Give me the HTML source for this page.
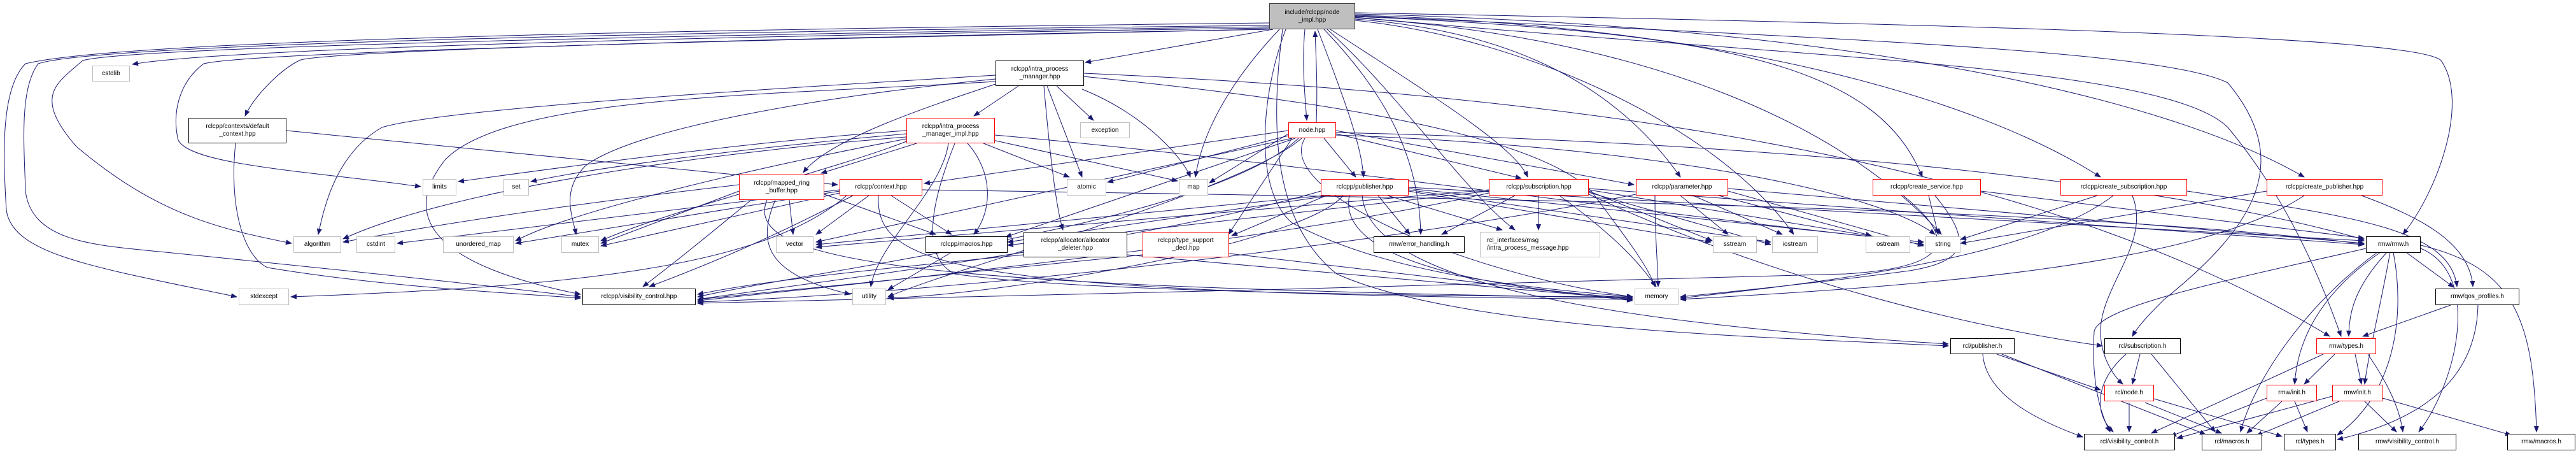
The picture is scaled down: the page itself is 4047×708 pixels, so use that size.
<!DOCTYPE html>
<html><head><meta charset="utf-8"><style>
html,body{margin:0;padding:0;background:#fff;}
#c{position:relative;width:4047px;height:708px;overflow:hidden;background:#fff;}
svg{position:absolute;left:0;top:0;}
.n{position:absolute;box-sizing:border-box;background:#fff;border:1px solid #000;font-family:"Liberation Sans",sans-serif;font-size:10px;line-height:12px;color:#000;display:flex;align-items:center;justify-content:center;text-align:center;white-space:nowrap;}
.g{border-color:#bfbfbf;}
.r{border-color:#ff0000;}
.k{border-color:#000;}
.root{background:#bfbfbf;border-color:#404040;}
</style></head><body><div id="c">
<svg width="4047" height="708" viewBox="0 0 4047 708">
<defs><marker id="a" markerWidth="10" markerHeight="8" refX="9" refY="4" orient="auto" markerUnits="userSpaceOnUse"><path d="M0,0 L10,4 L0,8z" fill="#191970"/></marker></defs>
<g fill="none" stroke="#191970" stroke-width="1" marker-end="url(#a)">
<path d="M1994 36 C1200 45 200 60 40 100 C0 140 5 250 10 330 C20 400 150 420 372 466"/>
<path d="M1994 40 C1000 50 150 70 60 100 C30 140 38 230 40 300 C50 380 150 385 250 395 C400 410 700 440 912 466"/>
<path d="M1994 42 C1000 55 200 75 130 95 C90 130 50 150 120 230 C250 340 350 360 458 382"/>
<path d="M1994 44 C1200 55 350 75 208 101"/>
<path d="M1994 46 C1200 60 500 80 470 95 C440 110 400 150 385 182"/>
<path d="M1994 46 C1300 60 400 80 320 100 C280 130 270 180 280 220 C300 260 500 270 661 293"/>
<path d="M2000 46 L1705 98"/>
<path d="M2050 46 C2045 100 2050 150 2053 189"/>
<path d="M2068 192 C2070 140 2068 100 2066 49"/>
<path d="M2010 46 C1940 120 1890 200 1878 278"/>
<path d="M2070 46 C2110 150 2140 230 2142 278"/>
<path d="M2090 46 C2250 150 2380 230 2400 278"/>
<path d="M2080 46 C2180 150 2230 250 2232 368"/>
<path d="M2085 46 C2200 150 2300 300 2380 361"/>
<path d="M2015 46 C1995 200 2000 350 2100 430 C2300 520 2800 530 3061 543"/>
<path d="M2129 30 C2400 50 2550 150 2640 278"/>
<path d="M2129 32 C2400 60 2700 200 2818 368"/>
<path d="M2129 28 C2600 60 2900 200 3050 368"/>
<path d="M2129 26 C2700 50 2950 100 3020 278"/>
<path d="M2129 24 C2700 40 3100 150 3300 278"/>
<path d="M2129 22 C2900 40 3400 150 3620 278"/>
<path d="M2129 20 C3200 40 3800 60 3835 95 C3880 160 3830 300 3775 368"/>
<path d="M2129 25 C2900 60 3400 80 3500 130 C3600 250 3550 350 3400 470 C3380 490 3360 510 3350 528"/>
<path d="M2129 27 C2800 90 3400 100 3500 200 C3600 320 3650 450 3678 528"/>
<path d="M2020 46 C1980 150 1970 300 2030 350 C2200 440 2450 455 2565 466"/>
<path d="M1600 135 L1530 182"/>
<path d="M1660 135 L1718 189"/>
<path d="M1645 135 L1700 278"/>
<path d="M1640 135 C1650 250 1660 330 1670 361"/>
<path d="M1700 140 C1800 180 1860 250 1870 278"/>
<path d="M1564 132 C1450 170 1300 220 1262 271"/>
<path d="M1564 118 C1200 140 700 170 600 200 C530 240 510 320 500 368"/>
<path d="M1702 120 C2000 150 2400 200 2500 300 C2560 380 2590 420 2600 450"/>
<path d="M1564 128 C1200 150 800 150 700 250 C620 350 700 420 912 462"/>
<path d="M1702 115 C2500 150 3200 250 3660 528"/>
<path d="M1564 124 C1300 150 1000 200 920 260 C880 300 900 340 905 368"/>
<path d="M1440 225 L1290 272"/>
<path d="M1545 225 L1680 278"/>
<path d="M1560 220 L1850 284"/>
<path d="M1520 225 C1560 270 1560 330 1530 368"/>
<path d="M1490 225 C1480 300 1380 380 1368 450"/>
<path d="M1424 205 C1200 220 900 260 720 285"/>
<path d="M1424 210 C1200 230 950 260 834 285"/>
<path d="M1424 215 C1100 240 700 300 539 375"/>
<path d="M1424 218 C1200 260 900 330 810 378"/>
<path d="M1424 222 C1300 270 1050 330 944 378"/>
<path d="M1500 225 C1470 300 1440 400 1500 430 C1700 460 2300 465 2565 466"/>
<path d="M1563 212 C2000 250 2700 350 3022 380"/>
<path d="M1240 314 L1246 368"/>
<path d="M1218 314 C1190 380 1200 430 1336 462"/>
<path d="M1161 300 L944 382"/>
<path d="M1295 305 L1470 368"/>
<path d="M1180 314 C1100 380 1050 420 1010 450"/>
<path d="M1161 290 C900 320 700 350 539 380"/>
<path d="M1205 314 C1160 420 1500 450 2565 468"/>
<path d="M1365 307 L1282 368"/>
<path d="M1400 307 L1495 368"/>
<path d="M1340 307 C1200 380 1100 420 1020 450"/>
<path d="M1319 300 L810 382"/>
<path d="M1319 303 L944 386"/>
<path d="M1319 298 L624 382"/>
<path d="M1380 307 C1375 420 1500 460 2565 470"/>
<path d="M1449 298 C2200 310 3200 320 3714 383"/>
<path d="M1330 307 C1200 420 900 450 457 466"/>
<path d="M450 205 L1316 290"/>
<path d="M370 225 C360 320 380 400 420 420 C600 450 800 460 912 468"/>
<path d="M1495 396 L1395 455"/>
<path d="M1608 400 C1400 420 1200 440 1096 462"/>
<path d="M1771 400 L2565 470"/>
<path d="M1795 400 L1096 470"/>
<path d="M1931 398 L2565 472"/>
<path d="M2080 217 L2130 278"/>
<path d="M2099 210 L2390 280"/>
<path d="M2099 205 L2567 290"/>
<path d="M2024 205 L1452 288"/>
<path d="M2035 217 L1580 372"/>
<path d="M2030 217 L1282 380"/>
<path d="M2024 213 L1740 286"/>
<path d="M2024 210 L1900 287"/>
<path d="M2099 212 C2600 230 2950 300 3040 368"/>
<path d="M2040 217 C1900 350 1300 420 1096 466"/>
<path d="M2030 217 L1930 368"/>
<path d="M2045 217 C1950 300 1500 420 1395 466"/>
<path d="M2050 217 C2000 300 2300 430 2565 466"/>
<path d="M2099 208 C2600 220 3300 260 3714 376"/>
<path d="M2165 307 L2215 368"/>
<path d="M2180 307 L2360 361"/>
<path d="M2090 307 L1583 380"/>
<path d="M2080 307 L1282 384"/>
<path d="M2100 300 L1935 370"/>
<path d="M2075 300 C1800 380 1300 440 1096 470"/>
<path d="M2110 307 C2050 380 1600 460 1395 468"/>
<path d="M2120 307 C2100 400 2300 450 2565 468"/>
<path d="M2213 300 L2688 380"/>
<path d="M2213 298 L2782 380"/>
<path d="M2213 296 L3022 380"/>
<path d="M2213 294 L3714 378"/>
<path d="M2140 307 C2150 420 2400 500 3061 540"/>
<path d="M2380 307 L2265 368"/>
<path d="M2417 307 L2417 361"/>
<path d="M2496 300 L2690 378"/>
<path d="M2450 307 C2550 380 2580 420 2602 450"/>
<path d="M2496 305 C2700 400 3000 500 3303 543"/>
<path d="M2496 302 L2782 384"/>
<path d="M2496 298 L3022 384"/>
<path d="M2496 296 L3714 384"/>
<path d="M2339 303 C2000 380 1400 440 1096 472"/>
<path d="M2339 300 L1583 385"/>
<path d="M2339 298 L1282 388"/>
<path d="M2640 307 L2715 368"/>
<path d="M2660 307 L2800 368"/>
<path d="M2700 307 L2940 370"/>
<path d="M2715 300 L3022 386"/>
<path d="M2600 307 C2600 380 2605 420 2605 450"/>
<path d="M2570 305 C2200 380 1500 460 1096 474"/>
<path d="M2715 296 L3714 382"/>
<path d="M3030 307 L3045 368"/>
<path d="M3112 300 L3714 374"/>
<path d="M3040 307 C3100 380 3090 410 3000 425 C2850 445 2700 460 2640 466"/>
<path d="M2990 307 C3080 380 3060 420 2900 430 C2500 445 1500 465 1096 476"/>
<path d="M3295 307 L3080 376"/>
<path d="M3350 307 C3380 380 3300 450 3300 520 C3300 560 3320 590 3335 603"/>
<path d="M3320 307 C3200 400 2900 440 2640 468"/>
<path d="M3436 300 C3700 340 3850 360 3860 450"/>
<path d="M3561 300 L3080 382"/>
<path d="M3710 307 C3800 340 3880 380 3885 450"/>
<path d="M3620 307 C3450 420 3000 450 2640 470"/>
<path d="M3780 396 L3855 451"/>
<path d="M3750 396 C3700 450 3690 490 3690 528"/>
<path d="M3740 396 C3660 450 3610 520 3605 603"/>
<path d="M3755 396 C3740 480 3720 560 3715 603"/>
<path d="M3717 390 C3500 440 3300 480 3290 520 C3285 600 3300 650 3315 678"/>
<path d="M3735 396 C3620 480 3540 600 3520 678"/>
<path d="M3760 396 C3780 500 3760 620 3672 683"/>
<path d="M3803 390 C3900 430 3860 600 3800 678"/>
<path d="M3803 385 C3950 420 3980 500 3985 678"/>
<path d="M3850 479 L3712 528"/>
<path d="M3893 479 C3890 600 3800 660 3672 690"/>
<path d="M3668 556 L3620 603"/>
<path d="M3700 556 L3710 603"/>
<path d="M3650 556 L3380 680"/>
<path d="M3720 556 C3750 600 3770 640 3775 678"/>
<path d="M3561 625 L3410 685"/>
<path d="M3585 630 L3530 680"/>
<path d="M3605 630 L3625 678"/>
<path d="M3664 622 L3420 688"/>
<path d="M3675 630 L3545 684"/>
<path d="M3715 630 L3765 678"/>
<path d="M3743 625 L3945 683"/>
<path d="M3345 632 L3345 678"/>
<path d="M3370 632 L3490 680"/>
<path d="M3384 626 L3585 685"/>
<path d="M3137 556 L3300 612"/>
<path d="M3115 556 C3120 620 3200 660 3272 686"/>
<path d="M3145 556 L3465 682"/>
<path d="M3362 556 L3350 603"/>
<path d="M3340 556 C3290 600 3290 650 3320 678"/>
<path d="M3380 556 L3480 678"/>
</g>
</svg>
<div class="n root" style="left:1994px;top:5px;width:135px;height:41px">include/rclcpp/node<br>_impl.hpp</div>
<div class="n k" style="left:1564px;top:95px;width:139px;height:40px">rclcpp/intra_process<br>_manager.hpp</div>
<div class="n r" style="left:1424px;top:185px;width:139px;height:40px">rclcpp/intra_process<br>_manager_impl.hpp</div>
<div class="n k" style="left:296px;top:185px;width:154px;height:40px">rclcpp/contexts/default<br>_context.hpp</div>
<div class="n g" style="left:145px;top:103px;width:59px;height:25px">cstdlib</div>
<div class="n r" style="left:2024px;top:192px;width:75px;height:25px">node.hpp</div>
<div class="n g" style="left:1697px;top:192px;width:78px;height:25px">exception</div>
<div class="n g" style="left:664px;top:281px;width:53px;height:26px">limits</div>
<div class="n g" style="left:791px;top:281px;width:40px;height:26px">set</div>
<div class="n r" style="left:1161px;top:274px;width:134px;height:40px">rclcpp/mapped_ring<br>_buffer.hpp</div>
<div class="n r" style="left:1319px;top:281px;width:130px;height:26px">rclcpp/context.hpp</div>
<div class="n g" style="left:1676px;top:281px;width:62px;height:26px">atomic</div>
<div class="n g" style="left:1852px;top:281px;width:46px;height:26px">map</div>
<div class="n r" style="left:2075px;top:281px;width:138px;height:26px">rclcpp/publisher.hpp</div>
<div class="n r" style="left:2339px;top:281px;width:157px;height:26px">rclcpp/subscription.hpp</div>
<div class="n r" style="left:2570px;top:281px;width:145px;height:26px">rclcpp/parameter.hpp</div>
<div class="n r" style="left:2942px;top:281px;width:170px;height:26px">rclcpp/create_service.hpp</div>
<div class="n r" style="left:3237px;top:281px;width:199px;height:26px">rclcpp/create_subscription.hpp</div>
<div class="n r" style="left:3561px;top:281px;width:182px;height:26px">rclcpp/create_publisher.hpp</div>
<div class="n g" style="left:461px;top:371px;width:75px;height:26px">algorithm</div>
<div class="n g" style="left:560px;top:371px;width:61px;height:26px">cstdint</div>
<div class="n g" style="left:696px;top:371px;width:111px;height:26px">unordered_map</div>
<div class="n g" style="left:882px;top:371px;width:59px;height:26px">mutex</div>
<div class="n g" style="left:1219px;top:371px;width:59px;height:26px">vector</div>
<div class="n k" style="left:1454px;top:371px;width:129px;height:26px">rclcpp/macros.hpp</div>
<div class="n k" style="left:1608px;top:364px;width:163px;height:40px">rclcpp/allocator/allocator<br>_deleter.hpp</div>
<div class="n r" style="left:1795px;top:364px;width:136px;height:40px">rclcpp/type_support<br>_decl.hpp</div>
<div class="n k" style="left:2158px;top:371px;width:143px;height:26px">rmw/error_handling.h</div>
<div class="n g" style="left:2325px;top:364px;width:189px;height:40px;justify-content:flex-start;text-align:left;padding-left:10px">rcl_interfaces/msg<br>/intra_process_message.hpp</div>
<div class="n g" style="left:2691px;top:371px;width:69px;height:26px">sstream</div>
<div class="n g" style="left:2784px;top:371px;width:72px;height:26px">iostream</div>
<div class="n g" style="left:2931px;top:371px;width:70px;height:26px">ostream</div>
<div class="n g" style="left:3025px;top:371px;width:55px;height:26px">string</div>
<div class="n k" style="left:3717px;top:371px;width:86px;height:26px">rmw/rmw.h</div>
<div class="n g" style="left:375px;top:453px;width:79px;height:26px">stdexcept</div>
<div class="n k" style="left:915px;top:453px;width:178px;height:26px">rclcpp/visibility_control.hpp</div>
<div class="n g" style="left:1339px;top:453px;width:53px;height:26px">utility</div>
<div class="n g" style="left:2568px;top:453px;width:69px;height:26px">memory</div>
<div class="n k" style="left:3826px;top:453px;width:132px;height:26px">rmw/qos_profiles.h</div>
<div class="n k" style="left:3064px;top:531px;width:101px;height:25px">rcl/publisher.h</div>
<div class="n k" style="left:3306px;top:531px;width:120px;height:25px">rcl/subscription.h</div>
<div class="n r" style="left:3639px;top:531px;width:94px;height:25px">rmw/types.h</div>
<div class="n r" style="left:3306px;top:604px;width:78px;height:26px">rcl/node.h</div>
<div class="n r" style="left:3561px;top:604px;width:79px;height:26px">rmw/init.h</div>
<div class="n r" style="left:3664px;top:604px;width:79px;height:26px">rmw/init.h</div>
<div class="n k" style="left:3274px;top:681px;width:143px;height:26px">rcl/visibility_control.h</div>
<div class="n k" style="left:3459px;top:681px;width:95px;height:26px">rcl/macros.h</div>
<div class="n k" style="left:3588px;top:681px;width:82px;height:26px">rcl/types.h</div>
<div class="n k" style="left:3705px;top:681px;width:154px;height:26px">rmw/visibility_control.h</div>
<div class="n k" style="left:3939px;top:681px;width:107px;height:26px">rmw/macros.h</div>
</div></body></html>
